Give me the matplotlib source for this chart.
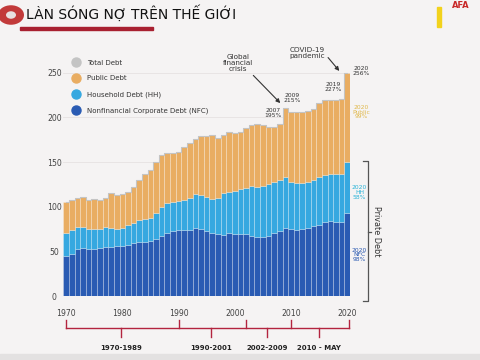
import numpy as np
import matplotlib
matplotlib.use("Agg")
from matplotlib import pyplot as plt
from matplotlib import transforms, font_manager
from matplotlib.lines import Line2D
from matplotlib.patches import Circle, Rectangle

years = list(range(1970, 2021))

# stacked levels, % of GDP
nfc = [44.8, 47, 53, 54, 53, 53, 54, 55, 55, 56,
       56, 57, 59, 60, 61, 62, 63.4, 67, 70, 73,
       74, 74, 74, 76.5, 74.6, 73, 70, 69, 68, 70,
       69.4, 69.4, 69, 67.5, 66.4, 65.7, 67, 70, 73, 76.5,
       74.6, 74, 74.6, 76.5, 78, 80, 83, 84, 83, 83,
       93]
private = [70, 74, 77, 77.6, 74.6, 75, 75, 77.6, 76.5, 75,
           76.5, 79.5, 82, 85, 86, 87, 92.5, 100, 104.5, 105.6,
           106.7, 107.5, 110, 114, 113, 111, 108.6, 110, 115, 117,
           117.5, 119.4, 121, 123, 122, 123, 125, 128, 130, 133.6,
           128, 126, 127, 128, 130, 133.6, 135.4, 136.6, 136.6, 137,
           150]
total = [105.6, 107.5, 110, 111, 107, 108.6, 108, 110, 115, 113,
         114, 117, 122, 130, 137, 141, 150, 158, 160, 160,
         161.5, 167, 171, 176, 179, 179, 180, 177, 180, 184,
         183, 184, 188, 191, 192.5, 191, 189.5, 189.5, 193, 210,
         206, 205.6, 206, 207, 209, 215.7, 220, 220, 219, 220.5,
         250]

hh = [p - n for p, n in zip(private, nfc)]
public = [t - p for t, p in zip(total, private)]

legend_labels = ["Total Debt", "Public Debt", "Household Debt (HH)",
                 "Nonfinancial Corporate Debt (NFC)"]
periods = [(1970, 1990, "1970-1989"), (1990, 2002, "1990-2001"),
           (2002, 2010, "2002-2009"), (2010, 2020.4, "2010 - MAY")]


def pick(names):
    for n in names:
        try:
            font_manager.findfont(n, fallback_to_default=False)
            return n
        except ValueError:
            pass
    return None


narrow = pick(["Liberation Sans Narrow", "DejaVu Sans Condensed"])
nfam = [narrow, "DejaVu Sans"] if narrow else ["DejaVu Sans"]
k = 1.0 if narrow else 0.8

c_nfc = "#2a5bb3"
c_hh = "#36a8e0"
c_pub = "#e9ad62"
c_tot = "#c4c4c4"
c_red = "#b3243f"
bg = "#f5f3f3"

fig = plt.figure(figsize=(4.8, 3.6), dpi=100, facecolor=bg)
ax = fig.add_axes([63.3 / 480, 64 / 360, 286.7 / 480, 232.2 / 360], facecolor=bg)

edge = (1, 1, 1, 0.35)
ax.bar(years, nfc, width=1.0, color=c_nfc, edgecolor=edge, linewidth=0.5)
ax.bar(years, hh, width=1.0, bottom=nfc, color=c_hh, edgecolor=edge, linewidth=0.5)
ax.bar(years, public, width=1.0, bottom=private, color=c_pub, edgecolor=edge, linewidth=0.5)
ax.step(years, total, where="mid", color=c_tot, lw=0.8)

ax.set_xlim(1969.5, 2020.5)
ax.set_ylim(0, 260)
ax.set_yticks([0, 50, 100, 150, 200, 250])
ax.set_xticks([1970, 1980, 1990, 2000, 2010, 2020])
for s in ax.spines.values():
    s.set_visible(False)
ax.tick_params(length=0, labelsize=6.5, labelcolor="#444444")
ax.tick_params(axis="y", pad=6.5)
ax.tick_params(axis="x", pad=9)
for lab in ax.get_yticklabels():
    lab.set_horizontalalignment("center")
    lab.set_family(nfam)
    lab.set_fontsize(7 * k)
for lab in ax.get_xticklabels():
    lab.set_family(nfam)
    lab.set_fontsize(7 * k)
for v in [150, 200, 250]:
    ax.axhline(v, color="#e6e2e2", lw=0.6, zorder=0)

# legend
handles = [Line2D([], [], ls="", marker="o", ms=6.5, color=c)
           for c in [c_tot, c_pub, c_hh, c_nfc]]
ax.legend(handles, legend_labels, loc="upper left", bbox_to_anchor=(0.01, 1.045),
          frameon=False, prop={"family": nfam, "size": 6.3 * k},
          handlelength=1.0, handletextpad=1.1, labelspacing=1.4,
          labelcolor="#333333")

# annotations
small = {"family": nfam, "size": 5.2}
ax.text(2000.6, 261, "Global\nfinancial\ncrisis", ha="center", va="center",
        color="#333333", linespacing=0.95, clip_on=False, fontdict=small)
ax.annotate("", xy=(2008.1, 216), xytext=(2003.3, 247), annotation_clip=False,
            arrowprops=dict(arrowstyle="-|>", color="#333333", lw=0.8,
                            shrinkA=0, shrinkB=0, mutation_scale=6))
ax.text(2012.9, 272, "COVID-19\npandemic", ha="center", va="center",
        color="#333333", linespacing=0.95, clip_on=False, fontdict=small)
ax.annotate("", xy=(2018.6, 252), xytext=(2016.6, 267), annotation_clip=False,
            arrowprops=dict(arrowstyle="-|>", color="#333333", lw=0.8,
                            shrinkA=0, shrinkB=0, mutation_scale=6))
tiny = {"family": nfam, "size": 4.3}
for x, y, t in [(2006.8, 205, "2007\n195%"), (2010.2, 222, "2009\n215%"),
                (2017.5, 234, "2019\n227%"), (2022.5, 252, "2020\n256%")]:
    ax.text(x, y, t, ha="center", va="center", color="#333333",
            linespacing=0.9, clip_on=False, fontdict=tiny)
ax.text(2022.5, 206, "2020\nPublic\n99%", ha="center", va="center",
        color="#e0b84a", linespacing=0.9, clip_on=False, fontdict=tiny)
ax.text(2022.2, 116, "2020\nHH\n58%", ha="center", va="center",
        color="#27b3d8", linespacing=0.9, clip_on=False, fontdict=tiny)
ax.text(2022.2, 46, "2020\nNFC\n98%", ha="center", va="center",
        color="#2757b0", linespacing=0.9, clip_on=False, fontdict=tiny)

# private debt bracket
bx = 2023.7
ax.plot([bx - 0.8, bx, bx, bx - 0.8], [151, 151, -6, -6], color="#555555",
        lw=0.9, clip_on=False)
ax.plot([bx, bx + 0.5], [72, 72], color="#555555", lw=0.9, clip_on=False)
ax.text(bx + 1.6, 72, "Private Debt", rotation=-90, ha="center", va="center",
        color="#333333", clip_on=False, fontdict={"family": nfam, "size": 5.9})

# period bracket below the axis
tr = transforms.blended_transform_factory(ax.transData, ax.transAxes)
y0, y_up, y_dn, y_lab = -0.138, -0.103, -0.177, -0.225
ax.plot([1970, 2020.4], [y0, y0], color=c_red, lw=1.0, transform=tr, clip_on=False)
for x in [1970, 1990, 2002, 2010, 2020.4]:
    ax.plot([x, x], [y0, y_up], color=c_red, lw=1.0, transform=tr, clip_on=False)
for a, b, lab in periods:
    m = (a + b) / 2 - 0.3
    ax.plot([m, m], [y0, y_dn], color=c_red, lw=1.0, transform=tr, clip_on=False)
    ax.text(m, y_lab, lab, ha="center", va="center", fontweight="bold",
            color="#222222", transform=tr, clip_on=False,
            fontdict={"family": nfam, "size": 6.3 * k})

# header
fig.text(26 / 480, 1 - 14 / 360, "LÀN SÓNG NỢ TRÊN THẾ GIỚI", ha="left", va="center",
         fontsize=12.5 * k, family=nfam, color="#111111")
fig.patches.append(Rectangle((20 / 480, 1 - 30 / 360), 133 / 480, 3.5 / 360,
                             transform=fig.transFigure, color="#a82030"))
fig.patches.append(Circle((11 / 480, 1 - 15 / 360), 13 / 480, transform=fig.transFigure,
                          facecolor="#c23a3a", edgecolor="none"))
fig.patches.append(Circle((11 / 480, 1 - 15 / 360), 5 / 480, transform=fig.transFigure,
                          facecolor="#e8e0e0", edgecolor="none"))
fig.text(461 / 480, 1 - 6 / 360, "AFA", ha="center", va="center", fontsize=6,
         fontweight="bold", color="#c82828")
fig.patches.append(Rectangle((437 / 480, 1 - 27 / 360), 4 / 480, 20 / 360,
                             transform=fig.transFigure, color="#f2d21c"))
fig.patches.append(Rectangle((0, 0), 1, 6 / 360, transform=fig.transFigure, color="#e3e1e1"))

plt.savefig("out.png", dpi=100, facecolor=bg)
